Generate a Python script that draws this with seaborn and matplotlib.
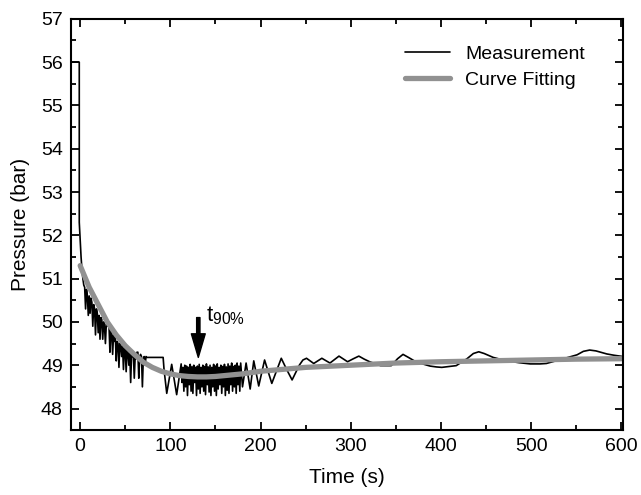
import matplotlib
matplotlib.use("Agg")
import matplotlib.pyplot as plt
from matplotlib.ticker import MultipleLocator
import seaborn as sns

meas_t = [-12, -1, -1, 0, 1, 2, 3, 4,
          5, 6, 7, 8, 9, 10, 11, 12, 13, 14, 15, 16, 17, 18, 19, 20,
          21, 22, 23, 24, 25, 26, 27, 28, 29, 30, 32, 33, 34, 35, 36, 37,
          38, 39, 40, 41, 42, 43, 44, 45, 46, 47, 48, 49, 50, 51, 52, 53,
          54, 55, 56, 57, 58, 59, 60, 61, 62, 63, 64, 65, 66, 67, 68, 69,
          70, 71, 72, 73, 74, 92, 93, 96, 101.5, 107,
          112, 113, 114, 115, 116, 117, 118, 119, 120, 121, 122, 123, 124,
          125, 126, 127, 128, 129, 130, 131, 132, 133, 134, 135, 136, 137,
          138, 139, 140, 141, 142, 143, 144, 145, 146, 147, 148, 149, 150,
          151, 152, 153, 154, 155, 156, 157, 158, 159, 160, 161, 162, 163,
          164, 165, 166, 167, 168, 169, 170, 171, 172, 173, 174, 175, 176,
          177, 178, 180, 184, 188.5, 192.5, 198, 204.5, 212.5, 223, 229,
          235, 243, 247, 251, 259, 268, 277, 287, 296.5, 303, 309, 315, 321,
          333, 345, 352, 358, 364, 373, 388, 395, 401, 417, 429, 436, 442,
          448, 458, 473, 486, 499, 510, 517, 536, 551, 558, 565, 572, 584,
          592, 602]
meas_p = [56.0, 56.0, 52.3, 51.9, 51.5, 51.2, 51.0, 50.85,
          50.8, 50.3, 50.75, 50.6, 50.15, 50.6, 50.2, 50.55, 50.45, 49.9,
          50.4, 50.3, 49.7, 50.3, 50.2, 49.75,
          50.15, 49.6, 50.1, 50.05, 49.6, 50.0, 49.9, 49.5, 49.95, 49.9,
          49.9, 49.3, 49.8, 49.75, 49.25, 49.7,
          49.55, 49.65, 49.1, 49.55, 49.5, 48.95, 49.5, 49.45, 49.2, 49.45,
          48.9, 49.4, 49.35, 48.85, 49.35, 49.3,
          49.0, 49.3, 48.6, 49.25, 49.2, 49.25, 48.7, 49.2, 49.15, 49.3,
          49.3, 48.7, 49.2, 49.25, 49.2, 48.5,
          49.15, 49.2, 49.0, 49.2, 49.18, 49.18, 48.9, 48.35, 49.02, 48.32,
          49.03, 48.6, 48.95, 48.4, 49.0, 48.5, 48.98, 48.3, 48.95, 48.55,
          49.02, 48.4, 48.97,
          48.35, 49.0, 48.6, 48.95, 48.3, 48.98, 48.45, 49.02, 48.35, 48.95,
          48.5, 49.0, 48.4,
          48.97, 48.32, 49.03, 48.55, 48.96, 48.38, 49.0, 48.3, 48.95, 48.5,
          49.02, 48.4, 48.98,
          48.3, 49.03, 48.45, 48.95, 48.55, 49.0, 48.35, 48.97, 48.5, 49.02,
          48.3, 48.96, 48.42,
          49.03, 48.35, 48.98, 48.55, 49.05, 48.4, 48.97, 48.5, 49.0, 48.35,
          49.05, 48.55, 48.98,
          48.4, 49.05, 48.5, 49.05, 48.45, 49.1, 48.52, 49.12, 48.58, 49.16,
          48.9,
          48.66, 49.0, 49.12, 49.16, 49.04, 49.16, 49.05, 49.21, 49.08,
          49.15, 49.21, 49.14, 49.08,
          48.99, 48.99, 49.15, 49.25, 49.18, 49.07, 48.98, 48.96, 48.95,
          48.99, 49.15, 49.27, 49.31,
          49.27, 49.18, 49.1, 49.06, 49.03, 49.03, 49.04, 49.15, 49.24,
          49.32, 49.35, 49.33, 49.26,
          49.23, 49.2]

# fitted curve
fit_t = [0, 10, 20, 30, 40, 50, 60, 70, 80, 90, 100, 110, 120, 130, 140,
         150, 160, 180, 200, 250, 300, 350, 400, 450, 500, 550, 600]
fit_p = [51.3, 50.8, 50.4, 50.0, 49.7, 49.45, 49.25, 49.07, 48.95, 48.86,
         48.8, 48.76, 48.74, 48.73, 48.73, 48.74, 48.76, 48.8, 48.86, 48.95,
         49.0, 49.05, 49.08, 49.1, 49.12, 49.14, 49.15]

sns.set_style("ticks", {'axes.edgecolor': 'black', 'text.color': 'black',
                        'axes.labelcolor': 'black', 'xtick.color': 'black',
                        'ytick.color': 'black'})
plt.rcParams['font.family'] = ['Liberation Sans', 'DejaVu Sans']
plt.rcParams['mathtext.fontset'] = 'custom'
plt.rcParams['mathtext.rm'] = 'Liberation Sans'

fig = plt.figure(figsize=(6.41, 4.95), dpi=100)
ax = fig.add_axes([0.111, 0.131, 0.861, 0.831])

sns.lineplot(x=meas_t, y=meas_p, estimator=None, sort=False, color='black',
             linewidth=1.2, label='Measurement', ax=ax)
sns.lineplot(x=fit_t, y=fit_p, estimator=None, sort=False, color='#919191',
             linewidth=3.8, label='Curve Fitting', ax=ax)

ax.annotate('', xy=(131, 49.18), xytext=(131, 50.1),
            arrowprops=dict(facecolor='black', edgecolor='black', width=2.4,
                            headwidth=10, headlength=17, shrink=0))
ax.text(139, 50.02, r'$\mathregular{t_{90\%}}$', fontsize=16, ha='left',
        va='baseline')

ax.set_xlim(-10, 602)
ax.set_ylim(47.5, 57)
ax.xaxis.set_major_locator(MultipleLocator(100))
ax.xaxis.set_minor_locator(MultipleLocator(50))
ax.yaxis.set_major_locator(MultipleLocator(1))
ax.yaxis.set_minor_locator(MultipleLocator(0.5))
ax.tick_params(which='both', direction='in', top=True, right=True,
               width=1.3, labelsize=14, pad=6)
ax.tick_params(which='major', length=6)
ax.tick_params(which='minor', length=3.5)
for s in ax.spines.values():
    s.set_linewidth(1.5)

ax.set_xlabel('Time (s)', fontsize=15, labelpad=9)
ax.set_ylabel('Pressure (bar)', fontsize=15, labelpad=8)

ax.legend(loc='upper right', bbox_to_anchor=(0.945, 0.955), frameon=False,
          fontsize=14, handlelength=2.3, handletextpad=0.8, labelspacing=0.45,
          borderaxespad=0)

fig.savefig('out.png', dpi=100)
